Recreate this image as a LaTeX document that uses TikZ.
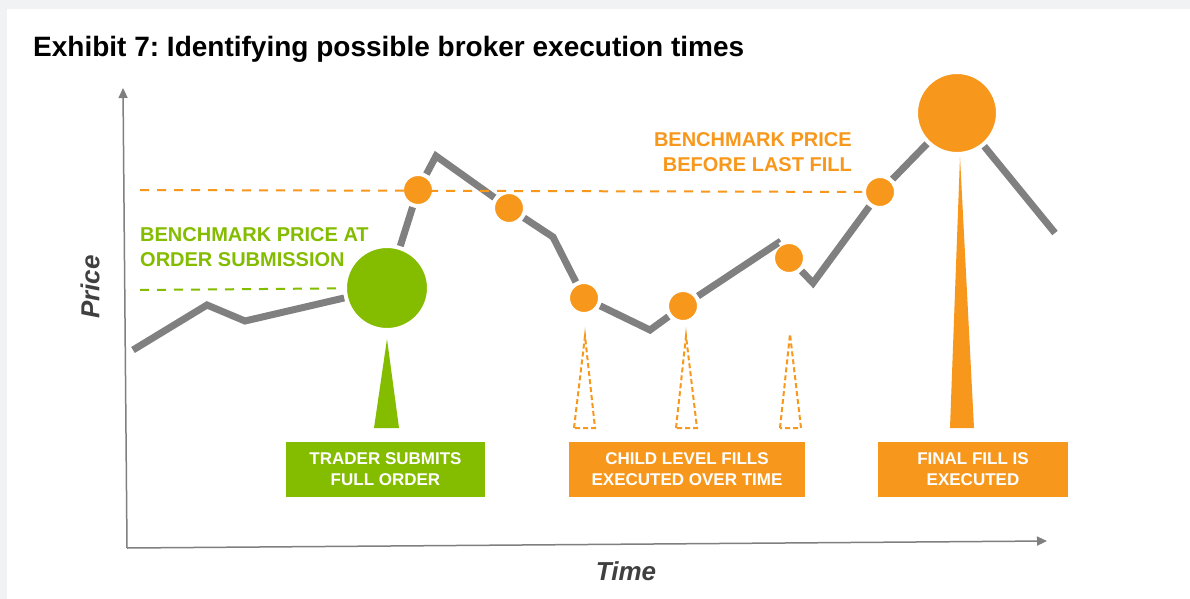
\documentclass[tikz,border=0pt]{standalone}
\usepackage{fontspec}
\setmainfont{Liberation Sans}
\usetikzlibrary{arrows.meta}
\frenchspacing
\definecolor{pricegrey}{HTML}{808080}
\definecolor{axisgrey}{HTML}{7F7F7F}
\definecolor{labelgrey}{HTML}{404040}
\definecolor{subgreen}{HTML}{84BC00}
\definecolor{fillorange}{HTML}{F7981D}
\definecolor{pagegrey}{HTML}{F1F2F4}

\begin{document}
\begin{tikzpicture}[x=1pt,y=-1pt,
    price/.style={draw=pricegrey,line width=7pt},
    priceaxis/.style={draw=axisgrey,line width=1.5pt,-{Triangle[length=10pt,width=9pt]}},
    bench/.style={line width=2pt,dash pattern=on 9pt off 8pt},
    dot/.style={circle,fill=fillorange,draw=white,line width=2pt,minimum size=30pt,inner sep=0pt,outer sep=3pt},
    bigdot/.style={dot,minimum size=80pt},
    dashtri/.style={draw=fillorange,line width=2pt,dash pattern=on 5pt off 3pt},
    msg/.style={minimum height=55pt,text=white,align=center,inner sep=0pt,font=\fontsize{17}{21}\selectfont\bfseries},
    bmk/.style={inner sep=0pt,font=\fontsize{20}{25}\selectfont\bfseries},
    axlabel/.style={text=labelgrey,font=\fontsize{26}{30}\selectfont\bfseries\itshape}]
    \fill[pagegrey] (0,0) rectangle (1190,599);
    \fill[white] (7,9) rectangle (1190,599);
    \node[anchor=base west,inner sep=0pt,font=\fontsize{28}{33}\selectfont\bfseries] (title) at (33,57) {Exhibit 7: Identifying possible broker execution times};

    \coordinate (org) at (127,548);
    \coordinate (ytop) at (123,88);
    \coordinate (xend) at (1047,541);
    \draw[priceaxis] (org) -- (ytop);
    \draw[priceaxis] (org) -- (xend);
    \node[axlabel,rotate=90] (ylab) at (90,287) {Price};
    \node[axlabel] (xlab) at (626,571) {Time};

    \node[bmk,text=subgreen,anchor=north west,align=left] (bmkorder) at (140,227.5) {BENCHMARK PRICE AT\\ORDER SUBMISSION};
    \node[bmk,text=fillorange,anchor=north east,align=right] (bmklast) at (852,132.5) {BENCHMARK PRICE\\BEFORE LAST FILL};

    \coordinate (p0) at (133,350);
    \coordinate (p1) at (207,305);
    \coordinate (p2) at (245,321);
    \node[bigdot,fill=subgreen,minimum size=82pt] (submit) at (387,288) {};
    \node[dot] (fill1) at (418,190) {};
    \coordinate (p3) at (436,156);
    \node[dot] (fill2) at (509,208) {};
    \coordinate (p4) at (553,237);
    \node[dot] (fill3) at (584,298) {};
    \coordinate (p5) at (650,330);
    \node[dot] (fill4) at (683,306) {};
    \coordinate (p6) at (778,243);
    \node[dot] (fill5) at (789,258) {};
    \coordinate (p7) at (813,283);
    \node[dot] (fill6) at (880,192) {};
    \node[bigdot] (final) at (957,113) {};
    \coordinate (p8) at (1055,233);

    \draw[price] (p0) -- (p1) -- (p2) -- (submit) -- (fill1) -- (p3) -- (fill2) -- (p4) -- (fill3) -- (p5) -- (fill4) -- (p6) -- (fill5) -- (p7) -- (fill6) -- (final) -- (p8);

    \coordinate (bstart) at (140,190);
    \coordinate (gstart) at (140,290);
    \draw[bench,draw=fillorange] (bstart) -- (fill6);
    \draw[bench,draw=subgreen] (gstart) -- (submit);

    \fill[subgreen] (374,428) -- (387,339) -- (399,428) -- cycle;
    \draw[dashtri] (574,428) -- (585,336) -- (595,428) -- cycle;
    \draw[dashtri] (676,428) -- (686,336) -- (697,428) -- cycle;
    \draw[dashtri] (780,428) -- (790,334) -- (801,428) -- cycle;
    \fill[fillorange] (950,428) -- (960,157) -- (974,428) -- cycle;

    \node[msg,fill=subgreen,minimum width=199pt] (trader) at (385.5,469.5) {TRADER SUBMITS\\FULL ORDER};
    \node[msg,fill=fillorange,minimum width=236pt] (child) at (687,469.5) {CHILD LEVEL FILLS\\EXECUTED OVER TIME};
    \node[msg,fill=fillorange,minimum width=190pt] (last) at (973,469.5) {FINAL FILL IS\\EXECUTED};
\end{tikzpicture}
\end{document}
